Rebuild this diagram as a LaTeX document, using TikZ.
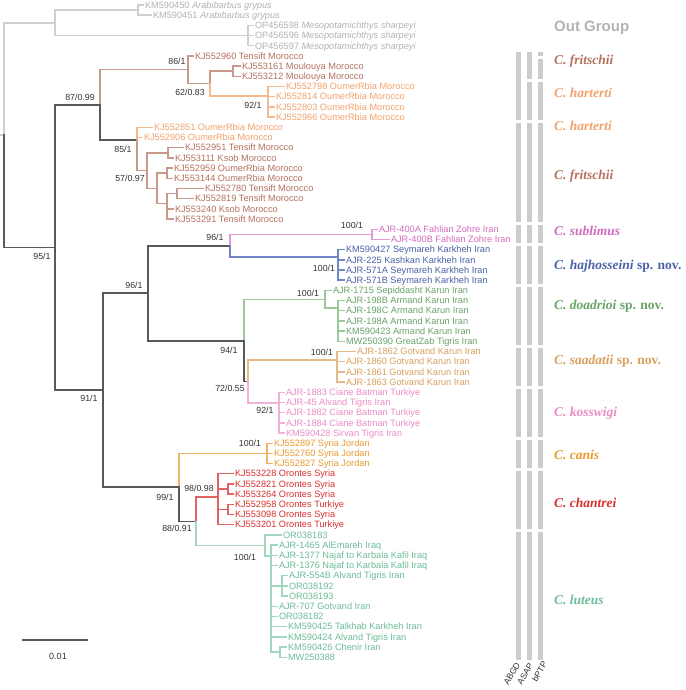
\documentclass[tikz,border=0pt]{standalone}
\usepackage{fontspec}
\setmainfont{Liberation Sans}
\newfontfamily\spfont{Liberation Serif}
\definecolor{grL}{HTML}{CFCFCF}
\definecolor{grT}{HTML}{B3B3B3}
\definecolor{dk}{HTML}{595959}
\definecolor{frT}{HTML}{B4725F}
\definecolor{frL}{HTML}{C99A8C}
\definecolor{haT}{HTML}{F2A36C}
\definecolor{haL}{HTML}{F5B98E}
\definecolor{suT}{HTML}{D46CBE}
\definecolor{suL}{HTML}{E29BD4}
\definecolor{hjT}{HTML}{4A62A8}
\definecolor{hjL}{HTML}{7086C2}
\definecolor{doT}{HTML}{69A369}
\definecolor{doL}{HTML}{9DC89B}
\definecolor{saT}{HTML}{D9A05E}
\definecolor{saL}{HTML}{E5BA88}
\definecolor{koT}{HTML}{EC8CC6}
\definecolor{koL}{HTML}{F1B1D8}
\definecolor{caT}{HTML}{EA9A2E}
\definecolor{caL}{HTML}{F0B464}
\definecolor{chT}{HTML}{D9302E}
\definecolor{chL}{HTML}{E26262}
\definecolor{luT}{HTML}{6CBD98}
\definecolor{luL}{HTML}{A2D7BE}
\definecolor{barc}{HTML}{CCCCCC}
\definecolor{bsc}{HTML}{333333}
\tikzset{
  tipn/.style={anchor=west, inner sep=0pt, outer sep=0pt, font=\fontsize{9.2}{10}\selectfont, text height=6.5pt, text depth=0pt},
  br/.style={line width=1.4pt, line cap=rect},
  dkbr/.style={draw=dk, line width=1.9pt, line cap=rect},
  bsl/.style={font=\fontsize{8.8}{9}\selectfont, text=bsc, inner sep=0pt},
  splab/.style={anchor=west, inner sep=0pt, font=\fontsize{13.5}{14}\selectfont\spfont\bfseries\itshape, text height=9pt, text depth=0pt},
  barlab/.style={rotate=60, anchor=east, inner sep=0pt, font=\fontsize{8.6}{9}\selectfont, text=bsc}
}
\newcommand\tipx[6]{\node[tipn,text=#5T] (#1) at (#3,#4) {#6};\draw[br,draw=#5L,shorten >=1.5pt] (#2) |- (#1.west);}
\begin{document}
\begin{tikzpicture}[x=1pt,y=-1pt]
\fill[white] (0,0) rectangle (685,690);
\useasboundingbox (0,0) rectangle (685,690);
% ---------- outgroup
\coordinate (r0) at (0,135);
\coordinate (root) at (4,135);
\draw[br,draw=grL] (r0) -- (root);
\coordinate (og) at (55,22.9);
\coordinate (arab) at (138,10.1);
\coordinate (meso) at (248,35.6);
\draw[br,draw=grL] (root) |- (og);
\draw[br,draw=grL] (og) |- (arab);
\draw[br,draw=grL] (og) |- (meso);
\tipx{t0}{arab}{145}{5}{gr}{KM590450 \textit{Arabibarbus grypus}}
\tipx{t1}{arab}{153}{15.2}{gr}{KM590451 \textit{Arabibarbus grypus}}
\tipx{t2}{meso}{255}{25.4}{gr}{OP456598 \textit{Mesopotamichthys sharpeyi}}
\tipx{t3}{meso}{255}{35.6}{gr}{OP456596 \textit{Mesopotamichthys sharpeyi}}
\tipx{t4}{meso}{255}{45.8}{gr}{OP456597 \textit{Mesopotamichthys sharpeyi}}
% ---------- ingroup / Morocco
\coordinate (ing) at (55,247.5);
\draw[dkbr] (root) |- (ing);
\coordinate (mor) at (100,105);
\draw[dkbr] (ing) |- (mor);
\coordinate (n86) at (188,69.8);
\draw[br,draw=frL] (mor) |- (n86);
\tipx{t5}{n86}{195}{56}{fr}{KJ552960 Tensift Morocco}
\coordinate (n62) at (210,83.6);
\draw[br,draw=frL] (n86) |- (n62);
\coordinate (moul) at (233,71.2);
\draw[br,draw=frL] (n62) |- (moul);
\tipx{t6}{moul}{242}{66.1}{fr}{KJ553161 Moulouya Morocco}
\tipx{t7}{moul}{242}{76.3}{fr}{KJ553212 Moulouya Morocco}
\coordinate (hart) at (268,96);
\draw[br,draw=haL] (n62) |- (hart);
\tipx{t8}{hart}{286}{86.5}{ha}{KJ552798 OumerRbia Morocco}
\tipx{t9}{hart}{276}{96.7}{ha}{KJ552814 OumerRbia Morocco}
\tipx{t10}{hart}{276}{106.9}{ha}{KJ552803 OumerRbia Morocco}
\tipx{t11}{hart}{276}{117.1}{ha}{KJ552966 OumerRbia Morocco}
\coordinate (n85) at (137,140);
\draw[dkbr] (mor) |- (n85);
\tipx{t12}{n85}{154}{127.3}{ha}{KJ552851 OumerRbia Morocco}
\tipx{t13}{n85}{144}{137.5}{ha}{KJ552906 OumerRbia Morocco}
\coordinate (n57) at (147,170.6);
\draw[br,draw=frL] (n85) |- (n57);
\coordinate (p1415) at (168,152.8);
\draw[br,draw=frL] (n57) |- (p1415);
\tipx{t14}{p1415}{185}{147.7}{fr}{KJ552951 Tensift Morocco}
\tipx{t15}{p1415}{175}{157.9}{fr}{KJ553111 Ksob Morocco}
\coordinate (n157) at (157,188.4);
\draw[br,draw=frL] (n57) |- (n157);
\coordinate (p1617) at (167,173.1);
\draw[br,draw=frL] (n157) |- (p1617);
\tipx{t16}{p1617}{174}{168}{fr}{KJ552959 OumerRbia Morocco}
\tipx{t17}{p1617}{174}{178.2}{fr}{KJ553144 OumerRbia Morocco}
\coordinate (n167) at (167,203.7);
\draw[br,draw=frL] (n157) |- (n167);
\coordinate (p1819) at (177,193.5);
\draw[br,draw=frL] (n167) |- (p1819);
\tipx{t18}{p1819}{205}{188.4}{fr}{KJ552780 Tensift Morocco}
\tipx{t19}{p1819}{195}{198.6}{fr}{KJ552819 Tensift Morocco}
\tipx{t20}{n167}{175}{208.8}{fr}{KJ553240 Ksob Morocco}
\tipx{t21}{n167}{175}{219}{fr}{KJ553291 Tensift Morocco}
% ---------- Middle East clades
\coordinate (n91) at (103,390);
\draw[dkbr] (ing) |- (n91);
\coordinate (n96a) at (148,293.2);
\draw[dkbr] (n91) |- (n96a);
\coordinate (n96b) at (230,245.7);
\draw[dkbr] (n96a) |- (n96b);
\coordinate (subl) at (372,234.3);
\draw[br,draw=suL] (n96b) |- (subl);
\tipx{t22}{subl}{379}{229.2}{su}{AJR-400A Fahlian Zohre Iran}
\tipx{t23}{subl}{391}{239.4}{su}{AJR-400B Fahlian Zohre Iran}
\coordinate (hajh) at (338,257);
\draw[br,draw=hjL] (n96b) |- (hajh);
\tipx{t24}{hajh}{346}{249.6}{hj}{KM590427 Seymareh Karkheh Iran}
\tipx{t25}{hajh}{346}{259.8}{hj}{AJR-225 Kashkan Karkheh Iran}
\tipx{t26}{hajh}{346}{270}{hj}{AJR-571A Seymareh Karkheh Iran}
\tipx{t27}{hajh}{346}{280.1}{hj}{AJR-571B Seymareh Karkheh Iran}
\coordinate (n94) at (244,340.7);
\draw[dkbr] (n96a) |- (n94);
\coordinate (doad) at (325,299.2);
\draw[br,draw=doL] (n94) |- (doad);
\tipx{t28}{doad}{333}{290.3}{do}{AJR-1715 Sepiddasht Karun Iran}
\coordinate (doad2) at (338,308);
\draw[br,draw=doL] (doad) |- (doad2);
\tipx{t29}{doad2}{346}{300.5}{do}{AJR-198B Armand Karun Iran}
\tipx{t30}{doad2}{346}{310.7}{do}{AJR-198C Armand Karun Iran}
\tipx{t31}{doad2}{346}{320.9}{do}{AJR-198A Armand Karun Iran}
\tipx{t32}{doad2}{346}{331.1}{do}{KM590423 Armand Karun Iran}
\tipx{t33}{doad2}{346}{341.3}{do}{MW250390 GreatZab Tigris Iran}
\coordinate (n72) at (248,381.5);
\draw[dkbr] (n94) |- (n72);
\coordinate (saad) at (337,360);
\draw[br,draw=saL] (n72) |- (saad);
\tipx{t34}{saad}{357}{351.5}{sa}{AJR-1862 Gotvand Karun Iran}
\tipx{t35}{saad}{346}{361.7}{sa}{AJR-1860 Gotvand Karun Iran}
\tipx{t36}{saad}{346}{371.8}{sa}{AJR-1861 Gotvand Karun Iran}
\tipx{t37}{saad}{346}{382}{sa}{AJR-1863 Gotvand Karun Iran}
\coordinate (kossw) at (279,403);
\draw[br,draw=koL] (n72) |- (kossw);
\tipx{t38}{kossw}{286}{392.2}{ko}{AJR-1883 Ciane Batman Turkiye}
\tipx{t39}{kossw}{286}{402.4}{ko}{AJR-45 Alvand Tigris Iran}
\tipx{t40}{kossw}{286}{412.6}{ko}{AJR-1882 Ciane Batman Turkiye}
\tipx{t41}{kossw}{286}{422.8}{ko}{AJR-1884 Ciane Batman Turkiye}
\tipx{t42}{kossw}{286}{433}{ko}{KM590428 Sirvan Tigris Iran}
\coordinate (n99) at (179,487.2);
\draw[dkbr] (n91) |- (n99);
\coordinate (canis) at (267,453.4);
\draw[br,draw=caL] (n99) |- (canis);
\tipx{t43}{canis}{274}{443.2}{ca}{KJ552897 Syria Jordan}
\tipx{t44}{canis}{274}{453.4}{ca}{KJ552760 Syria Jordan}
\tipx{t45}{canis}{274}{463.6}{ca}{KJ552827 Syria Jordan}
\coordinate (n88) at (196,521.5);
\draw[dkbr] (n99) |- (n88);
\coordinate (chan) at (218,497);
\draw[br,draw=chL] (n88) |- (chan);
\tipx{t46}{chan}{235}{473.7}{ch}{KJ553228 Orontes Syria}
\coordinate (p4748) at (228,489);
\draw[br,draw=chL] (chan) |- (p4748);
\tipx{t47}{p4748}{235}{483.9}{ch}{KJ552821 Orontes Syria}
\tipx{t48}{p4748}{235}{494.1}{ch}{KJ553264 Orontes Syria}
\coordinate (p4950) at (228,509.4);
\draw[br,draw=chL] (chan) |- (p4950);
\tipx{t49}{p4950}{235}{504.3}{ch}{KJ552958 Orontes Turkiye}
\tipx{t50}{p4950}{235}{514.5}{ch}{KJ553098 Orontes Syria}
\tipx{t51}{chan}{235}{524.7}{ch}{KJ553201 Orontes Turkiye}
\coordinate (lut) at (265,545.5);
\draw[br,draw=luL] (n88) |- (lut);
\tipx{t52}{lut}{283}{534.9}{lu}{OR038183}
\coordinate (lut2) at (271,556);
\draw[br,draw=luL] (lut) |- (lut2);
\tipx{t53}{lut2}{279}{545.1}{lu}{AJR-1465 AlEmareh Iraq}
\tipx{t54}{lut2}{279}{555.3}{lu}{AJR-1377 Najaf to Karbala Kafil Iraq}
\tipx{t55}{lut2}{279}{565.5}{lu}{AJR-1376 Najaf to Karbala Kafil Iraq}
\coordinate (p5658) at (282,585.8);
\draw[br,draw=luL] (lut2) |- (p5658);
\tipx{t56}{p5658}{289}{575.6}{lu}{AJR-554B Alvand Tigris Iran}
\tipx{t57}{p5658}{289}{585.8}{lu}{OR038192}
\tipx{t58}{p5658}{289}{596}{lu}{OR038193}
\tipx{t59}{lut2}{279}{606.2}{lu}{AJR-707 Gotvand Iran}
\tipx{t60}{lut2}{279}{616.4}{lu}{OR038182}
\tipx{t61}{lut2}{288}{626.6}{lu}{KM590425 Talkhab Karkheh Iran}
\tipx{t62}{lut2}{288}{636.8}{lu}{KM590424 Alvand Tigris Iran}
\coordinate (p6364) at (280,652.1);
\draw[br,draw=luL] (lut2) |- (p6364);
\tipx{t63}{p6364}{288}{647}{lu}{KM590426 Chenir Iran}
\tipx{t64}{p6364}{288}{657.2}{lu}{MW250388}
% ---------- support values
\node[bsl] (b1) at (177,61) {86/1};
\node[bsl] (b2) at (190,92) {62/0.83};
\node[bsl] (b3) at (253,105) {92/1};
\node[bsl] (b4) at (80,97) {87/0.99};
\node[bsl] (b5) at (123,149) {85/1};
\node[bsl] (b6) at (130,178) {57/0.97};
\node[bsl] (b7) at (42,256) {95/1};
\node[bsl] (b8) at (134,285) {96/1};
\node[bsl] (b9) at (89,398) {91/1};
\node[bsl] (b10) at (215,237) {96/1};
\node[bsl] (b11) at (352,225) {100/1};
\node[bsl] (b12) at (324,268) {100/1};
\node[bsl] (b13) at (308,293) {100/1};
\node[bsl] (b14) at (229,350) {94/1};
\node[bsl] (b15) at (322,352) {100/1};
\node[bsl] (b16) at (230,388) {72/0.55};
\node[bsl] (b17) at (265,410) {92/1};
\node[bsl] (b18) at (250,443) {100/1};
\node[bsl] (b19) at (165,497) {99/1};
\node[bsl] (b20) at (199,488) {98/0.98};
\node[bsl] (b21) at (177,528) {88/0.91};
\node[bsl] (b22) at (245,557) {100/1};
% ---------- scale bar
\coordinate (sb1) at (22,640);
\coordinate (sb2) at (88,640);
\draw[dkbr,line width=1.5pt,line cap=butt] (sb1) -- (sb2);
\node[bsl,font=\fontsize{9}{10}\selectfont] (sbl) at (58,656) {0.01};
% ---------- delimitation bars
\foreach \a/\b in {52/120.5,123.5/221.5,224.5/243,246/283.5,286.5/344.5,347.5/385.5,388.5/436.5,439.5/467.5,470.5/528.5,531.5/660}{
  \fill[barc] (516,\a) rectangle (521,\b);
  \fill[barc] (527,\a) rectangle (532,\b);
  \fill[barc] (538,\a) rectangle (543,\b);
}
\fill[white] (526,79.5) rectangle (544,82.5);
\fill[white] (537,56.5) rectangle (544,59.5);
\node[barlab] (abgd) at (518,663) {ABGD};
\node[barlab] (asap) at (531,664) {ASAP};
\node[barlab] (bptp) at (545,662) {bPTP};
% ---------- species labels
\node[anchor=west,inner sep=0pt,font=\fontsize{15}{16}\selectfont\bfseries,text=grT,text height=10.5pt,text depth=0pt] (outg) at (554,26) {Out Group};
\node[splab,text=frT] (s1) at (554,60) {C. fritschii};
\node[splab,text=haT] (s2) at (554,93) {C. harterti};
\node[splab,text=haT] (s3) at (554,126) {C. harterti};
\node[splab,text=frT] (s4) at (554,175) {C. fritschii};
\node[splab,text=suT] (s5) at (554,231) {C. sublimus};
\node[splab,text=hjT] (s6) at (554,265) {C. hajhosseini \textup{sp. nov.}};
\node[splab,text=doT] (s7) at (554,305) {C. doadrioi \textup{sp. nov.}};
\node[splab,text=saT] (s8) at (554,360) {C. saadatii \textup{sp. nov.}};
\node[splab,text=koT] (s9) at (554,412) {C. kosswigi};
\node[splab,text=caT] (s10) at (554,455) {C. canis};
\node[splab,text=chT] (s11) at (554,503) {C. chantrei};
\node[splab,text=luT] (s12) at (554,600) {C. luteus};
\end{tikzpicture}
\end{document}
